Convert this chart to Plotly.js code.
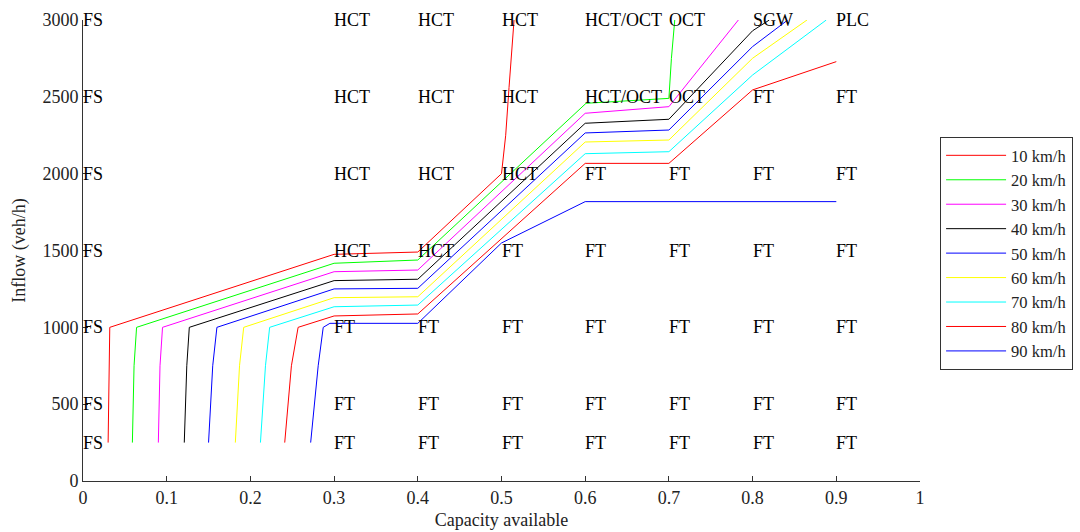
<!DOCTYPE html>
<html>
<head>
<meta charset="utf-8">
<script src="https://cdn.plot.ly/plotly-3.0.1.min.js"></script>
<style>
  html, body { margin: 0; padding: 0; background: #fff; }
  #chart { width: 1080px; height: 532px; }
</style>
</head>
<body>
<div id="chart"></div>
<script>
// Inflow curves against available capacity, one per speed
const speeds = ['10 km/h', '20 km/h', '30 km/h', '40 km/h', '50 km/h', '60 km/h', '70 km/h', '80 km/h', '90 km/h'];
const colors = ['#ff0000', '#00ff00', '#ff00ff', '#000000', '#0000ff', '#ffff00', '#00ffff', '#ff0000', '#0000ff'];

const cap10 = [0.030, 0.031, 0.032, 0.300, 0.400, 0.500, 0.505, 0.509, 0.515];
const flow10 = [250, 750, 1000, 1475, 1490, 2000, 2250, 2560, 3000];

const cap20 = [0.059, 0.061, 0.064, 0.300, 0.400, 0.601, 0.700, 0.703, 0.707];
const flow20 = [250, 750, 1000, 1417, 1438, 2458, 2490, 2750, 3000];

const cap30 = [0.090, 0.092, 0.095, 0.300, 0.400, 0.600, 0.700, 0.783];
const flow30 = [250, 750, 1000, 1362, 1373, 2393, 2436, 3000];

const cap40 = [0.121, 0.124, 0.127, 0.300, 0.400, 0.600, 0.700, 0.800, 0.820];
const flow40 = [250, 750, 1000, 1304, 1313, 2328, 2354, 2930, 3000];

const cap50 = [0.150, 0.155, 0.160, 0.300, 0.400, 0.600, 0.700, 0.800, 0.842];
const flow50 = [250, 750, 1000, 1250, 1254, 2265, 2284, 2827, 3000];

const cap60 = [0.182, 0.187, 0.192, 0.300, 0.400, 0.600, 0.700, 0.800, 0.865];
const flow60 = [250, 750, 1000, 1193, 1199, 2206, 2219, 2751, 3000];

const cap70 = [0.212, 0.218, 0.223, 0.300, 0.400, 0.600, 0.700, 0.800, 0.888];
const flow70 = [250, 750, 1000, 1134, 1145, 2130, 2143, 2642, 3000];

const cap80 = [0.241, 0.249, 0.257, 0.300, 0.400, 0.600, 0.700, 0.800, 0.900];
const flow80 = [250, 750, 1000, 1074, 1087, 2067, 2067, 2545, 2729];

const cap90 = [0.272, 0.281, 0.287, 0.295, 0.400, 0.500, 0.600, 0.900];
const flow90 = [250, 750, 1000, 1026, 1026, 1549, 1818, 1818];

// Regime labels on a grid of capacity / inflow positions
const labelCap = [0, 0.3, 0.4, 0.5, 0.6, 0.7, 0.8, 0.9];
const labelFlow = [250, 500, 1000, 1500, 2000, 2500, 3000];
const labels250 = ['FS', 'FT', 'FT', 'FT', 'FT', 'FT', 'FT', 'FT'];
const labels500 = ['FS', 'FT', 'FT', 'FT', 'FT', 'FT', 'FT', 'FT'];
const labels1000 = ['FS', 'FT', 'FT', 'FT', 'FT', 'FT', 'FT', 'FT'];
const labels1500 = ['FS', 'HCT', 'HCT', 'FT', 'FT', 'FT', 'FT', 'FT'];
const labels2000 = ['FS', 'HCT', 'HCT', 'HCT', 'FT', 'FT', 'FT', 'FT'];
const labels2500 = ['FS', 'HCT', 'HCT', 'HCT', 'HCT/OCT', 'OCT', 'FT', 'FT'];
const labels3000 = ['FS', 'HCT', 'HCT', 'HCT', 'HCT/OCT', 'OCT', 'SGW', 'PLC'];

const caps = [cap10, cap20, cap30, cap40, cap50, cap60, cap70, cap80, cap90];
const flows = [flow10, flow20, flow30, flow40, flow50, flow60, flow70, flow80, flow90];
const labelRows = [labels250, labels500, labels1000, labels1500, labels2000, labels2500, labels3000];

const serif = 'Liberation Serif, Times New Roman, serif';

const traces = speeds.map((name, i) => ({
  type: 'scatter',
  mode: 'lines',
  x: caps[i],
  y: flows[i],
  name: name,
  line: { color: colors[i], width: 1 }
}));

const annotations = [];
labelRows.forEach((row, r) => {
  row.forEach((txt, c) => {
    annotations.push({
      x: labelCap[c], y: labelFlow[r], xref: 'x', yref: 'y',
      text: txt, showarrow: false, xanchor: 'left', yanchor: 'middle',
      xshift: -2,
      font: { family: serif, size: 18, color: '#000' }
    });
  });
});

const layout = {
  width: 1080, height: 532,
  margin: { l: 83, r: 160, t: 20, b: 51, pad: 0, autoexpand: false },
  paper_bgcolor: '#fff', plot_bgcolor: '#fff',
  showlegend: true,
  legend: {
    x: 1.024, y: 0.746, xanchor: 'left', yanchor: 'top',
    bordercolor: '#333', borderwidth: 1, bgcolor: '#fff',
    font: { family: serif, size: 16.5, color: '#222' },
    itemwidth: 60
  },
  xaxis: {
    range: [0, 1], tickvals: [0, 0.1, 0.2, 0.3, 0.4, 0.5, 0.6, 0.7, 0.8, 0.9, 1],
    ticktext: ['0', '0.1', '0.2', '0.3', '0.4', '0.5', '0.6', '0.7', '0.8', '0.9', '1'],
    ticks: 'inside', ticklen: 5, tickcolor: '#333',
    showline: true, linecolor: '#333', linewidth: 1, mirror: false,
    showgrid: false, zeroline: false,
    tickfont: { family: serif, size: 18, color: '#222' },
    title: { text: 'Capacity available', font: { family: serif, size: 18, color: '#222' }, standoff: 6 }
  },
  yaxis: {
    range: [0, 3000], tickvals: [0, 500, 1000, 1500, 2000, 2500, 3000],
    ticks: 'inside', ticklen: 5, tickcolor: '#333',
    showline: true, linecolor: '#333', linewidth: 1, mirror: false,
    showgrid: false, zeroline: false,
    tickfont: { family: serif, size: 18, color: '#222' },
    title: { text: 'Inflow (veh/h)', font: { family: serif, size: 18, color: '#222' }, standoff: 12 }
  },
  annotations: annotations
};

Plotly.newPlot('chart', traces, layout, { displayModeBar: false, staticPlot: true });
</script>
</body>
</html>
